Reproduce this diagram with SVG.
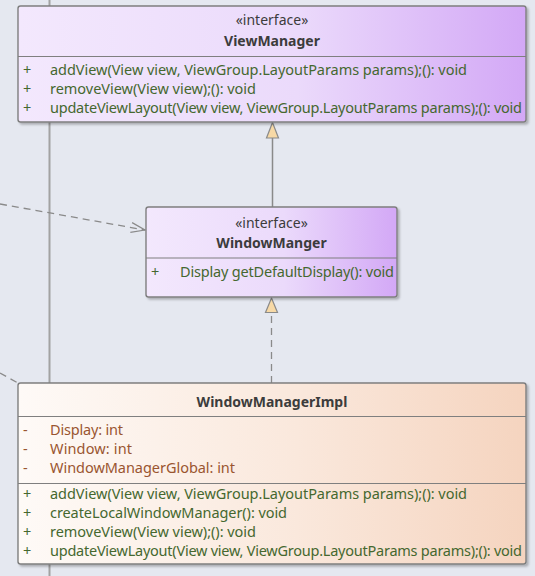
<svg xmlns="http://www.w3.org/2000/svg" width="535" height="576" viewBox="0 0 535 576">
  <defs>
    <linearGradient id="gradInterface" x1="0" y1="0" x2="1" y2="0">
      <stop offset="0" stop-color="#f3e8fd"/>
      <stop offset="0.55" stop-color="#ebdafb"/>
      <stop offset="1" stop-color="#d3a8f6"/>
    </linearGradient>
    <linearGradient id="gradClass" x1="0" y1="0" x2="1" y2="0">
      <stop offset="0" stop-color="#fefaf7"/>
      <stop offset="0.55" stop-color="#fae8dc"/>
      <stop offset="1" stop-color="#f5d4bf"/>
    </linearGradient>
    <filter id="shadow" x="-5%" y="-5%" width="110%" height="115%">
      <feDropShadow dx="2" dy="2" stdDeviation="1" flood-color="#000" flood-opacity="0.25"/>
    </filter>
    <marker id="openArrow" viewBox="0 0 16 12" refX="15" refY="6" markerWidth="16" markerHeight="12" markerUnits="userSpaceOnUse" orient="auto">
      <path d="M1,1 L15,6 L1,11" fill="none" stroke="#8a8a8a" stroke-width="1.2"/>
    </marker>
  </defs>
  <style>
    .bg { fill: #e5e8f0; }
    .box { stroke: #7f7f7f; stroke-width: 1.4; }
    .sep { stroke: #7f7f7f; stroke-width: 1.2; }
    .txt { font-family: "Noto Sans", "Open Sans", sans-serif; font-size: 14.5px; }
    .stereo { fill: #3c3c3c; text-anchor: middle; font-size: 14px; }
    .name { fill: #3c3c3c; text-anchor: middle; font-weight: bold; font-size: 14px; }
    .op { fill: #45682f; }
    .attr { fill: #9a5530; }
    .lifeline { stroke: #a2a2a2; stroke-width: 2; fill: none; }
    .dash { stroke: #8a8a8a; stroke-width: 1.3; stroke-dasharray: 7 5; fill: none; }
    .solid { stroke: #8a8a8a; stroke-width: 1.5; fill: none; }
    .tri { fill: #f7d9a6; stroke: #8a8a8a; stroke-width: 1.2; }
  </style>

  <rect class="bg" x="0" y="0" width="535" height="576"/>

  <!-- background line running behind the classes -->
  <line class="lifeline" x1="49.5" y1="0" x2="49.5" y2="576"/>

  <g id="connectors">
    <!-- dependency coming in from the left -->
    <line class="dash" x1="0" y1="204" x2="145" y2="230" marker-end="url(#openArrow)"/>
    <line class="dash" x1="0" y1="373" x2="18" y2="383"/>
    <!-- WindowManger extends ViewManager -->
    <line class="solid" x1="272.5" y1="207" x2="272.5" y2="138"/>
    <polygon class="tri" points="272.5,122.5 278.5,138 266.5,138"/>
    <!-- WindowManagerImpl implements WindowManger -->
    <line class="dash" x1="271.5" y1="383" x2="271.5" y2="312" stroke-dasharray="6 4"/>
    <polygon class="tri" points="271.5,298 277.5,312.5 265.5,312.5"/>
  </g>

  <g id="ViewManager">
    <rect class="box" x="18" y="6" width="508" height="116" rx="2.5" fill="url(#gradInterface)" filter="url(#shadow)"/>
    <line class="sep" x1="18" y1="56.5" x2="526" y2="56.5"/>
    <text class="txt stereo" x="272" y="25">«interface»</text>
    <text class="txt name" x="272" y="46">ViewManager</text>
    <text class="txt op" x="23" y="75">+</text>
    <text class="txt op" x="50" y="75" textLength="417">addView(View view, ViewGroup.LayoutParams params);(): void</text>
    <text class="txt op" x="23" y="94">+</text>
    <text class="txt op" x="50" y="94" textLength="206">removeView(View view);(): void</text>
    <text class="txt op" x="23" y="113">+</text>
    <text class="txt op" x="50" y="113" textLength="472">updateViewLayout(View view, ViewGroup.LayoutParams params);(): void</text>
  </g>

  <g id="WindowManger">
    <rect class="box" x="146" y="207" width="251" height="90" rx="2.5" fill="url(#gradInterface)" filter="url(#shadow)"/>
    <line class="sep" x1="146" y1="258" x2="397" y2="258"/>
    <text class="txt stereo" x="271.5" y="228">«interface»</text>
    <text class="txt name" x="271.5" y="248">WindowManger</text>
    <text class="txt op" x="151" y="277">+</text>
    <text class="txt op" x="180" y="277" textLength="214">Display getDefaultDisplay(): void</text>
  </g>

  <g id="WindowManagerImpl">
    <rect class="box" x="18" y="383" width="508" height="181" rx="2.5" fill="url(#gradClass)" filter="url(#shadow)"/>
    <line class="sep" x1="18" y1="416.5" x2="526" y2="416.5"/>
    <line class="sep" x1="18" y1="483.5" x2="526" y2="483.5"/>
    <text class="txt name" x="272" y="407">WindowManagerImpl</text>
    <text class="txt attr" x="23" y="435">-</text>
    <text class="txt attr" x="50" y="435" textLength="73">Display: int</text>
    <text class="txt attr" x="23" y="454">-</text>
    <text class="txt attr" x="50" y="454" textLength="82">Window: int</text>
    <text class="txt attr" x="23" y="473">-</text>
    <text class="txt attr" x="50" y="473" textLength="185">WindowManagerGlobal: int</text>
    <text class="txt op" x="23" y="499">+</text>
    <text class="txt op" x="50" y="499" textLength="417">addView(View view, ViewGroup.LayoutParams params);(): void</text>
    <text class="txt op" x="23" y="518">+</text>
    <text class="txt op" x="50" y="518" textLength="237">createLocalWindowManager(): void</text>
    <text class="txt op" x="23" y="537">+</text>
    <text class="txt op" x="50" y="537" textLength="206">removeView(View view);(): void</text>
    <text class="txt op" x="23" y="556">+</text>
    <text class="txt op" x="50" y="556" textLength="472">updateViewLayout(View view, ViewGroup.LayoutParams params);(): void</text>
  </g>
</svg>
